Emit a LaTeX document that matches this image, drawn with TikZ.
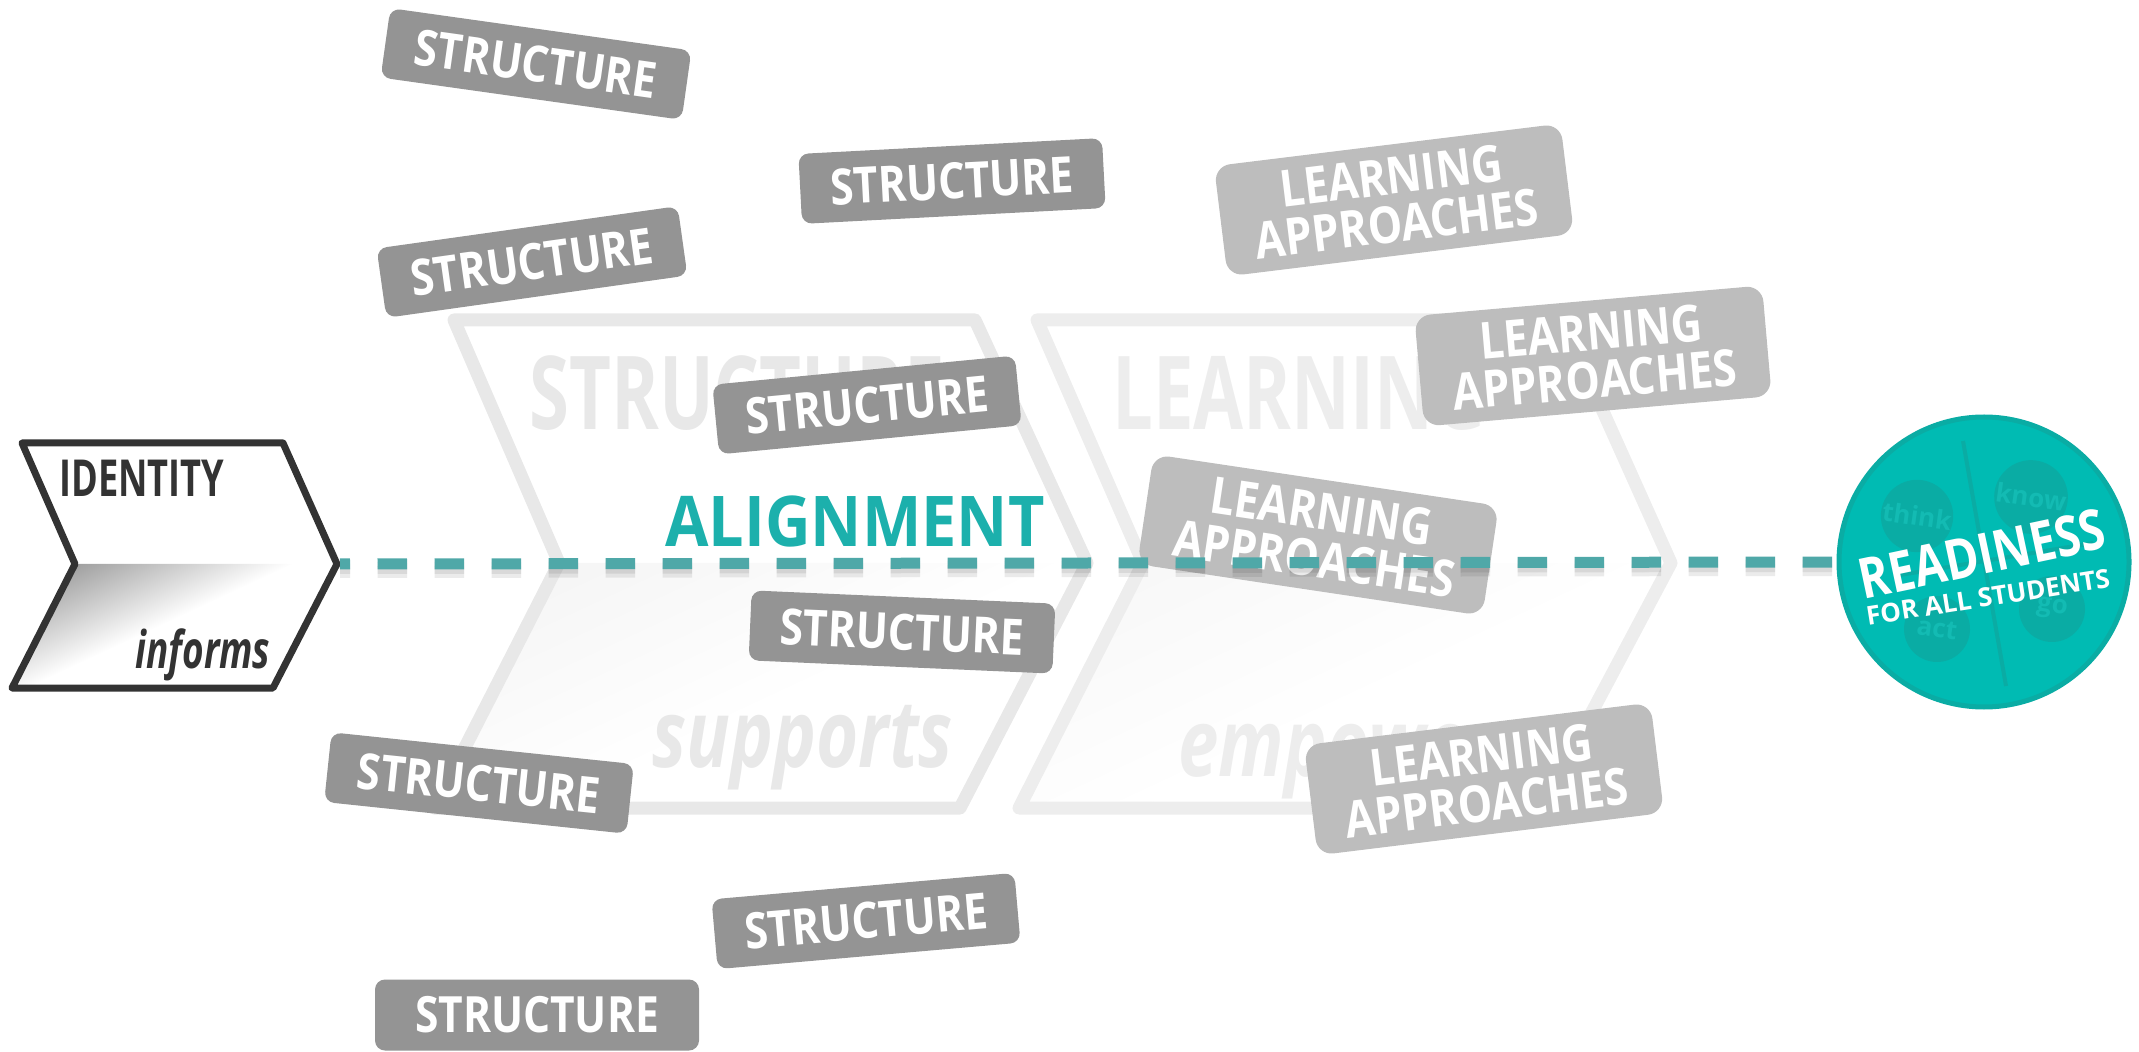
\documentclass[tikz,border=0pt]{standalone}
\usepackage{fontspec}
\setmainfont{Open Sans}
\newfontfamily\cardfont[FakeStretch=0.85]{Open Sans}
\newfontfamily\alignfont[FakeStretch=0.9]{Open Sans}
\newfontfamily\condfont[FakeStretch=0.71]{Open Sans}
\newfontfamily\slantfont[FakeStretch=0.77]{Open Sans}
\newfontfamily\readyfont[FakeStretch=0.82]{Open Sans}
\definecolor{tealtext}{HTML}{1CB0AC}
\definecolor{tealdash}{HTML}{4FA8A8}
\definecolor{tealfill}{HTML}{00BBB3}
\definecolor{tealdark}{HTML}{0AACA4}
\definecolor{tealmark}{HTML}{13BBB3}
\tikzset{
    structcard/.style={fill=black!42,text=white,rounded corners=5pt,minimum width=152pt,minimum height=35pt,inner sep=0pt,font=\cardfont\bfseries\fontsize{25}{25}\selectfont},
    learncard/.style={fill=black!26,text=white,rounded corners=8pt,minimum width=174.5pt,minimum height=55.5pt,inner sep=0pt,align=center,font=\cardfont\bfseries\fontsize{25.5}{24}\selectfont},
    bigword/.style={inner sep=0pt,anchor=base west,font=\condfont\bfseries\fontsize{51}{51}\selectfont},
    slantword/.style={inner sep=0pt,anchor=base west,font=\slantfont\bfseries\itshape\fontsize{47}{47}\selectfont},
    smallcircle/.style={circle,fill=tealdark,minimum size=33pt,inner sep=0pt,text=tealmark,font=\bfseries\fontsize{13}{13}\selectfont},
    dashline/.style={draw=tealdash,line width=5.5pt,dash pattern=on 14.75pt off 13.75pt,dash phase=9.75pt},
    dashshadow/.style={draw=black,opacity=.08,line width=6pt,dash pattern=on 14.75pt off 13.75pt,dash phase=9.75pt},
}
\begin{document}
\begin{tikzpicture}[x=.5pt,y=-.5pt]
    \useasboundingbox (0,0) rectangle (2139,1052);

    % structure chevron
    \begin{scope}
        \clip (559,563) -- (1087,563) -- (960,808) -- (434,808) -- cycle;
        \shade[transform canvas={shift={(559,563)},rotate=25},top color=black!4,bottom color=white]
            (-500,-10) rectangle (800,220);
    \end{scope}
    \draw[draw=black!9,line width=6.5pt,line join=round]
        (454,320) -- (975,320) -- (1087,563) -- (960,808) -- (434,808) -- (559,563) -- cycle;
    \node[bigword,text=black!9] (structword) at (529,430) {STRUCTURE};
    \node[slantword,text=black!9] (supportsword) at (652,767) {supports};

    % learning chevron
    \begin{scope}
        \clip (1143,563) -- (1671,563) -- (1541,808) -- (1019,808) -- cycle;
        \shade[transform canvas={shift={(1143,563)},rotate=25},top color=black!3,bottom color=white]
            (-500,-10) rectangle (800,220);
    \end{scope}
    \draw[draw=black!7,line width=6.5pt,line join=round]
        (1037,320) -- (1562,320) -- (1671,563) -- (1541,808) -- (1019,808) -- (1143,563) -- cycle;
    \node[bigword,text=black!7] (learnword) at (1112,430) {LEARNING};
    \node[slantword,text=black!7] (empowerword) at (1178,776) {empowers};

    % identity chevron
    \begin{scope}
        \clip (75,564) -- (337,564) -- (273,688) -- (12,688) -- cycle;
        \shade[transform canvas={shift={(75,564)},rotate=25},top color=black!40,middle color=black!8,bottom color=white]
            (-300,-6) rectangle (500,92);
    \end{scope}
    \draw[draw=black!80,line width=3.5pt,line join=round]
        (22,443) -- (283,443) -- (337,564) -- (273,688) -- (12,688) -- (75,564) -- cycle;
    \coordinate (idtip) at (340,564);
    \node[inner sep=0pt,anchor=base west,text=black!80,font=\condfont\bfseries\fontsize{25.5}{25.5}\selectfont] (identity) at (59,497) {IDENTITY};
    \node[inner sep=0pt,anchor=base west,text=black!80,font=\condfont\bfseries\itshape\fontsize{26}{26}\selectfont] (informs) at (135,668) {informs};

    \node[inner sep=0pt,anchor=base,text=tealtext,font=\alignfont\bfseries\fontsize{35}{35}\selectfont] (alignment) at (855,546) {ALIGNMENT};

    % cards
    \node[structcard,rotate=-8] (card1) at (536,64) {STRUCTURE};
    \node[structcard,rotate=3] (card2) at (952,181) {STRUCTURE};
    \node[structcard,rotate=8] (card3) at (532,262) {STRUCTURE};
    \node[structcard,rotate=5.5] (card4) at (867,405) {STRUCTURE};
    \node[structcard,rotate=-2.5] (card5) at (902,632) {STRUCTURE};
    \node[structcard,rotate=-6] (card6) at (479,783) {STRUCTURE};
    \node[structcard,rotate=5] (card7) at (866,921) {STRUCTURE};
    \node[structcard,minimum width=162pt,minimum height=35.5pt] (card8) at (537,1015) {STRUCTURE};

    \node[learncard,rotate=7] (carda) at (1394,200) {LEARNING\\APPROACHES};
    \node[learncard,rotate=5] (cardb) at (1593,356) {LEARNING\\APPROACHES};
    \node[learncard,rotate=-8.5] (cardc) at (1318,535) {LEARNING\\APPROACHES};
    \node[learncard,rotate=7] (cardd) at (1484,779) {LEARNING\\APPROACHES};

    % readiness
    \node[circle,fill=tealfill,draw=tealdark,line width=2.5pt,minimum size=145pt,inner sep=0pt] (readiness) at (1984,562) {};
    \draw[tealdark,line width=2pt] (1963,441) -- (2006,686);
    \draw[tealdark,line width=2pt] (1900,575) -- (2093,543);
    \node[smallcircle,rotate=-8] (think) at (1917,516) {think};
    \node[smallcircle,rotate=-8] (know) at (2031,497) {know};
    \node[smallcircle,rotate=-8] (act) at (1937,629) {act};
    \node[smallcircle,rotate=-8] (go) at (2052,609) {go};
    \node[inner sep=0pt,rotate=12,text=white,font=\readyfont\bfseries\fontsize{28}{28}\selectfont] (readyword) at (1982,554) {READINESS};
    \node[inner sep=0pt,rotate=9,text=white,font=\fontsize{13}{13}\selectfont\bfseries] (allstudents) at (1988,597) {FOR ALL STUDENTS};

    % alignment line
    \draw[dashshadow] ([yshift=-2pt]idtip) -- ([yshift=-2pt]readiness.west);
    \draw[dashshadow] ([yshift=-4pt]idtip) -- ([yshift=-4pt]readiness.west);
    \draw[dashline] (idtip) -- (readiness.west);
\end{tikzpicture}
\end{document}
